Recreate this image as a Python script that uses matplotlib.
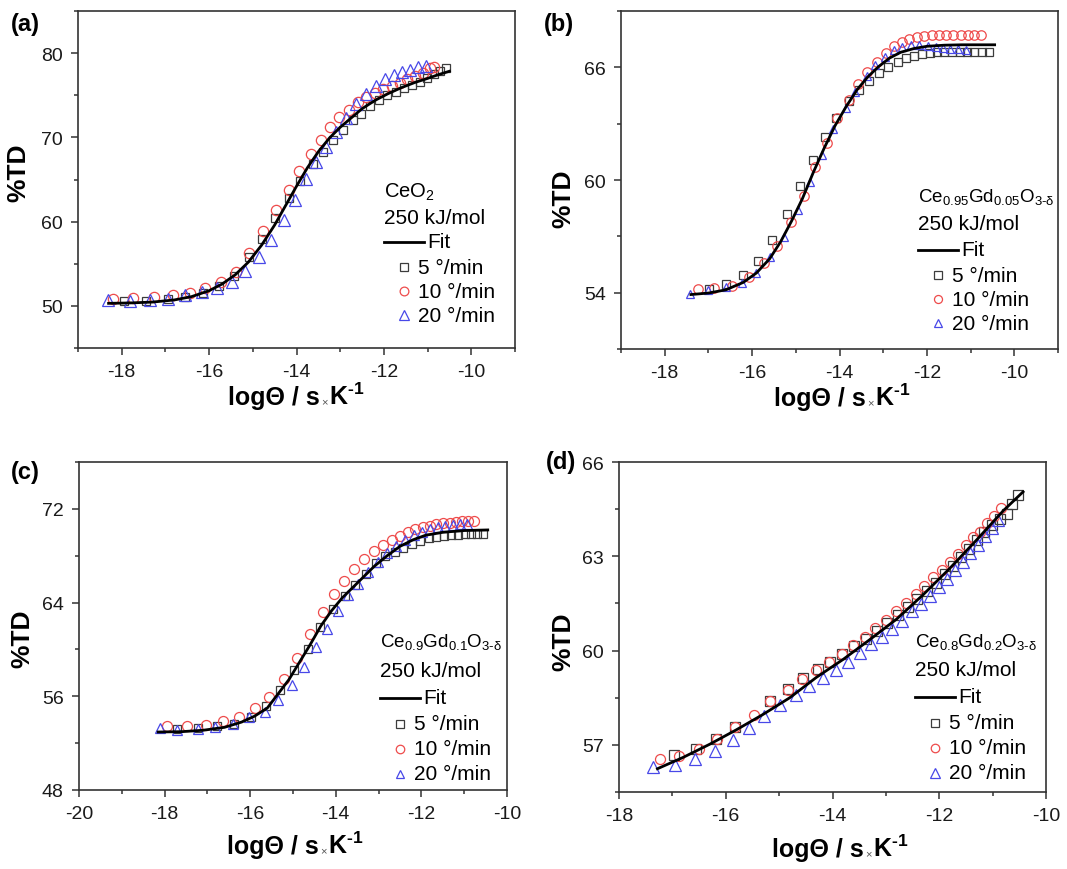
import matplotlib
matplotlib.use('Agg')
import matplotlib.pyplot as plt
from matplotlib.ticker import MultipleLocator
from matplotlib.offsetbox import TextArea, HPacker, AnnotationBbox

plt.rcParams['font.family'] = ['Liberation Sans', 'DejaVu Sans']
plt.rcParams['axes.unicode_minus'] = False
plt.rcParams['mathtext.fontset'] = 'custom'
plt.rcParams['mathtext.rm'] = 'Liberation Sans'
plt.rcParams['mathtext.it'] = 'Liberation Sans:italic'
plt.rcParams['mathtext.bf'] = 'Liberation Sans:bold'
plt.rcParams['mathtext.default'] = 'regular'

# ---------------- data ----------------
# (a) CeO2
a_sq_x = [-17.95, -17.44, -16.94, -16.55, -16.15, -15.78, -15.43, -15.08, -14.78, -14.49, -14.18, -13.92, -13.63,
          -13.4, -13.17, -12.94, -12.71, -12.52, -12.31, -12.11, -11.92, -11.73, -11.54, -11.36, -11.18, -11.02,
          -10.86, -10.72, -10.59]
a_sq_y = [50.56, 50.6, 50.76, 51.04, 51.56, 52.39, 53.59, 55.86, 57.98, 60.45, 62.76, 64.84, 66.83,
          68.23, 69.63, 70.82, 72.1, 72.82, 73.69, 74.41, 75.01, 75.41, 75.81, 76.21, 76.61, 77.08,
          77.52, 77.92, 78.2]
a_ci_x = [-18.21, -17.75, -17.25, -16.82, -16.44, -16.09, -15.72, -15.38, -15.08, -14.76, -14.48, -14.18, -13.94,
          -13.67, -13.45, -13.23, -13.02, -12.8, -12.59, -12.4, -12.21, -12.02, -11.82, -11.63, -11.46, -11.28,
          -11.11, -10.94, -10.86]
a_ci_y = [50.76, 50.88, 51.08, 51.28, 51.56, 52.07, 52.87, 54.07, 56.26, 58.86, 61.33, 63.72, 66.04,
          68.03, 69.7, 71.22, 72.42, 73.3, 74.21, 74.81, 75.29, 75.69, 76.09, 76.49, 76.89, 77.28,
          77.68, 78.2, 78.4]
a_tr_x = [-18.32, -17.82, -17.36, -16.95, -16.55, -16.17, -15.82, -15.48, -15.17, -14.85, -14.58, -14.28, -14.04,
          -13.78, -13.55, -13.32, -13.09, -12.86, -12.63, -12.4, -12.18, -11.98, -11.78, -11.59, -11.4, -11.21,
          -11.03]
a_tr_y = [50.68, 50.6, 50.68, 50.8, 51.28, 51.6, 52.07, 52.87, 54.15, 55.86, 57.86, 60.25, 62.53,
          65.04, 67.03, 68.83, 70.62, 72.34, 74.01, 75.2, 76.1, 76.9, 77.4, 77.75, 78.05, 78.3,
          78.5]
a_fit_x = [-18.3, -17.8, -17.3, -16.8, -16.4, -16.0, -15.7, -15.4, -15.1, -14.8, -14.5, -14.25, -14.0, -13.75,
           -13.5, -13.25, -13.0, -12.75, -12.5, -12.2, -11.9, -11.6, -11.3, -11.0, -10.75, -10.5]
a_fit_y = [50.3, 50.35, 50.45, 50.7, 51.1, 51.8, 52.6, 53.7, 55.2, 57.2, 59.6, 61.9, 64.2, 66.4,
           68.3, 69.9, 71.2, 72.3, 73.4, 74.4, 75.2, 75.9, 76.5, 77.0, 77.45, 77.85]

# (b) Ce0.95Gd0.05O3-d
b_sq_x = [-16.99, -16.6, -16.2, -15.86, -15.54, -15.21, -14.91, -14.61, -14.33, -14.07, -13.78, -13.55, -13.32,
          -13.09, -12.88, -12.67, -12.48, -12.29, -12.11, -11.94, -11.77, -11.6, -11.42, -11.25, -11.09, -10.92,
          -10.74, -10.58]
b_sq_y = [54.21, 54.48, 54.93, 55.7, 56.78, 58.17, 59.68, 61.07, 62.29, 63.28, 64.21, 64.78, 65.28,
          65.7, 66.04, 66.31, 66.48, 66.63, 66.72, 66.77, 66.81, 66.81, 66.81, 66.81, 66.81, 66.81,
          66.81, 66.84]
b_ci_x = [-17.23, -16.87, -16.47, -16.08, -15.72, -15.43, -15.12, -14.82, -14.57, -14.28, -14.05, -13.78, -13.57,
          -13.36, -13.15, -12.94, -12.75, -12.57, -12.4, -12.23, -12.06, -11.88, -11.73, -11.56, -11.4, -11.23,
          -11.07, -10.92, -10.77]
b_ci_y = [54.18, 54.27, 54.36, 54.81, 55.58, 56.51, 57.76, 59.14, 60.68, 61.97, 63.28, 64.25, 65.11,
          65.77, 66.31, 66.77, 67.13, 67.34, 67.52, 67.61, 67.67, 67.7, 67.7, 67.7, 67.7, 67.7,
          67.7, 67.7, 67.7]
b_tr_x = [-17.43, -17.01, -16.6, -16.24, -15.9, -15.58, -15.28, -14.95, -14.67, -14.39, -14.15, -13.86, -13.65,
          -13.38, -13.19, -12.96, -12.76, -12.56, -12.36, -12.17, -11.98, -11.8, -11.63, -11.46, -11.28, -11.11]
b_tr_y = [53.95, 54.14, 54.3, 54.54, 55.04, 55.88, 56.99, 58.39, 59.91, 61.34, 62.74, 63.85, 64.69,
          65.55, 66.1, 66.55, 66.9, 67.1, 67.2, 67.2, 67.15, 67.08, 67.02, 66.98, 66.95, 66.93]
b_fit_x = [-17.4, -17.0, -16.6, -16.2, -15.9, -15.6, -15.35, -15.1, -14.85, -14.6, -14.35, -14.1, -13.85, -13.6,
           -13.35, -13.1, -12.85, -12.6, -12.3, -12.0, -11.6, -11.2, -10.8, -10.45]
b_fit_y = [53.9, 53.98, 54.15, 54.55, 55.05, 55.8, 56.7, 57.8, 59.0, 60.4, 61.7, 62.9, 63.9, 64.8,
           65.5, 66.05, 66.5, 66.8, 67.0, 67.12, 67.18, 67.2, 67.2, 67.2]

# (c) Ce0.9Gd0.1O3-d
c_sq_x = [-17.71, -17.21, -16.78, -16.37, -15.99, -15.64, -15.31, -14.97, -14.66, -14.37, -14.07, -13.79, -13.54,
          -13.3, -13.07, -12.84, -12.62, -12.42, -12.22, -12.03, -11.83, -11.65, -11.48, -11.3, -11.15, -10.99,
          -10.85, -10.71, -10.57]
c_sq_y = [53.21, 53.3, 53.44, 53.64, 54.21, 55.16, 56.51, 58.22, 60.03, 61.89, 63.46, 64.52, 65.47,
          66.41, 67.39, 67.96, 68.33, 68.7, 68.99, 69.25, 69.48, 69.62, 69.71, 69.76, 69.79, 69.82,
          69.82, 69.82, 69.82]
c_ci_x = [-17.94, -17.47, -17.03, -16.64, -16.25, -15.89, -15.56, -15.22, -14.91, -14.6, -14.3, -14.05, -13.81,
          -13.58, -13.34, -13.11, -12.89, -12.69, -12.5, -12.32, -12.14, -11.96, -11.81, -11.65, -11.49, -11.34,
          -11.19, -11.04, -10.9, -10.77]
c_ci_y = [53.5, 53.5, 53.58, 53.87, 54.24, 54.96, 55.96, 57.45, 59.23, 61.32, 63.18, 64.7, 65.84,
          66.9, 67.76, 68.42, 68.9, 69.33, 69.68, 69.99, 70.25, 70.42, 70.57, 70.68, 70.77, 70.82,
          70.88, 70.94, 70.97, 71.0]
c_tr_x = [-18.11, -17.7, -17.23, -16.82, -16.4, -16.02, -15.66, -15.34, -15.03, -14.74, -14.46, -14.21, -13.95,
          -13.72, -13.48, -13.24, -13.01, -12.8, -12.59, -12.38, -12.18, -11.99, -11.79, -11.61, -11.44, -11.26,
          -11.1, -10.93]
c_tr_y = [53.3, 53.1, 53.21, 53.36, 53.64, 54.21, 54.64, 55.65, 56.93, 58.54, 60.23, 61.75, 63.32,
          64.61, 65.61, 66.61, 67.47, 68.19, 68.82, 69.33, 69.76, 70.05, 70.25, 70.42, 70.54, 70.62,
          70.68, 70.71]
c_fit_x = [-18.15, -17.6, -17.1, -16.6, -16.2, -15.9, -15.6, -15.35, -15.1, -14.85, -14.6, -14.35, -14.1, -13.85,
           -13.6, -13.35, -13.1, -12.8, -12.5, -12.2, -11.9, -11.5, -11.0, -10.45]
c_fit_y = [52.95, 52.98, 53.1, 53.35, 53.8, 54.3, 55.0, 56.2, 57.4, 58.9, 60.4, 62.0, 63.3, 64.4,
           65.3, 66.2, 67.1, 68.0, 68.8, 69.35, 69.75, 70.0, 70.15, 70.2]

# (d) Ce0.8Gd0.2O3-d
d_sq_x = [-16.97, -16.55, -16.18, -15.83, -15.17, -14.84, -14.55, -14.28, -14.04, -13.82, -13.6, -13.38, -13.17,
          -12.97, -12.77, -12.58, -12.41, -12.23, -12.06, -11.9, -11.74, -11.59, -11.44, -11.3, -11.16, -11.02,
          -10.87, -10.74, -10.63, -10.52]
d_sq_y = [56.69, 56.87, 57.19, 57.57, 58.4, 58.78, 59.14, 59.41, 59.63, 59.9, 60.13, 60.38, 60.63,
          60.89, 61.14, 61.39, 61.65, 61.89, 62.16, 62.43, 62.7, 62.97, 63.24, 63.51, 63.78, 64.0,
          64.2, 64.35, 64.65, 64.95]
d_ci_x = [-17.24, -16.87, -16.5, -16.17, -15.82, -15.47, -15.17, -14.84, -14.57, -14.3, -14.06, -13.82, -13.61,
          -13.4, -13.2, -13.0, -12.81, -12.62, -12.44, -12.28, -12.11, -11.95, -11.79, -11.65, -11.5, -11.37,
          -11.23, -11.1, -10.98, -10.85]
d_ci_y = [56.55, 56.65, 56.87, 57.19, 57.57, 57.95, 58.38, 58.76, 59.09, 59.39, 59.63, 59.9, 60.17,
          60.44, 60.71, 60.98, 61.25, 61.52, 61.81, 62.06, 62.33, 62.56, 62.83, 63.08, 63.35, 63.6,
          63.78, 64.05, 64.29, 64.54]
d_tr_x = [-17.37, -16.95, -16.57, -16.2, -15.87, -15.57, -15.28, -14.98, -14.69, -14.44, -14.17, -13.93, -13.71,
          -13.49, -13.28, -13.07, -12.88, -12.69, -12.51, -12.34, -12.17, -12.01, -11.85, -11.71, -11.56, -11.42,
          -11.28, -11.14, -11.02, -10.89]
d_tr_y = [56.28, 56.35, 56.55, 56.82, 57.16, 57.54, 57.92, 58.27, 58.6, 58.87, 59.14, 59.38, 59.65,
          59.93, 60.2, 60.44, 60.68, 60.95, 61.25, 61.49, 61.75, 62.02, 62.29, 62.56, 62.83, 63.1,
          63.37, 63.64, 63.91, 64.16]
d_fit_x = [-17.28, -16.8, -16.3, -15.8, -15.3, -14.8, -14.3, -13.8, -13.3, -12.8, -12.3, -11.8, -11.3, -10.8,
           -10.43]
d_fit_y = [56.24, 56.6, 57.02, 57.48, 57.97, 58.5, 59.15, 59.72, 60.35, 61.0, 61.78, 62.62, 63.52, 64.45,
           65.05]

formulas = ['CeO$_2$', 'Ce$_{0.95}$Gd$_{0.05}$O$_{3\u2010\u03b4}$',
            'Ce$_{0.9}$Gd$_{0.1}$O$_{3\u2010\u03b4}$', 'Ce$_{0.8}$Gd$_{0.2}$O$_{3\u2010\u03b4}$']
rate_labels = ['5 \u00b0/min', '10 \u00b0/min', '20 \u00b0/min']
panel_tags = ['(a)', '(b)', '(c)', '(d)']

# ---------------- figure ----------------
W, H = 1067, 870
fig = plt.figure(figsize=(W / 100, H / 100), dpi=100)

# axes boxes in pixels: left, top, right, bottom
boxes = [(78, 12, 515, 349), (621, 12, 1058, 350), (79, 463, 507, 791), (619, 463, 1046, 793)]
xlims = [(-19, -9), (-19, -9), (-20, -10), (-18, -10)]
ylims = [(45, 85), (51, 69), (48, 76), (55.5, 66)]
ymaj = [10, 6, 8, 3]
ymin = [5, 3, 4, 1.5]
ms = [(6.3, 7.4, 8), (6, 6.8, 6), (6.2, 7.2, 7.2), (6.5, 7.2, 8.2)]
key_anchor = [(384, 192), (918, 197), (380, 642), (915, 642)]
key_rows = [[0, 26, 51, 76, 100, 124], [0, 27, 54, 79, 103, 127],
            [0, 30, 57, 83, 108, 133], [0, 29, 56, 82, 107, 132]]
formula_size = [14.5, 13.5, 13.5, 13.5]
tag_pos = [(11, 25), (544, 24), (11, 473), (546, 463)]
xlab_pos = [(296, 397), (842, 398), (295, 846), (840, 849)]
ylab_pos = [(18, 173), (563, 199), (22, 639), (563, 642)]

sq_col, ci_col, tr_col = '#3c3c3c', '#ee4b4b', '#4848e8'

series = [
    (a_sq_x, a_sq_y, a_ci_x, a_ci_y, a_tr_x, a_tr_y, a_fit_x, a_fit_y),
    (b_sq_x, b_sq_y, b_ci_x, b_ci_y, b_tr_x, b_tr_y, b_fit_x, b_fit_y),
    (c_sq_x, c_sq_y, c_ci_x, c_ci_y, c_tr_x, c_tr_y, c_fit_x, c_fit_y),
    (d_sq_x, d_sq_y, d_ci_x, d_ci_y, d_tr_x, d_tr_y, d_fit_x, d_fit_y),
]


def x_label(x, y):
    parts = [TextArea('log\u0398 / s', textprops=dict(fontsize=18, fontweight='bold')),
             TextArea('\u00d7', textprops=dict(fontsize=8, color='#555555')),
             TextArea('K$^{\\mathbf{\u20101}}$', textprops=dict(fontsize=18, fontweight='bold'))]
    box = HPacker(children=parts, align='baseline', pad=0, sep=1)
    fig.add_artist(AnnotationBbox(box, (x / W, 1 - y / H), xycoords='figure fraction', frameon=False,
                                  box_alignment=(0.5, 0.5)))


for i in range(4):
    l, t, r, b = boxes[i]
    ax = fig.add_axes([l / W, 1 - b / H, (r - l) / W, (b - t) / H])
    sx, sy, cx, cy, tx, ty, fx, fy = series[i]
    m1, m2, m3 = ms[i]
    ax.plot(sx, sy, 's', ms=m1, mfc='none', mec=sq_col, mew=0.9, zorder=3)
    ax.plot(cx, cy, 'o', ms=m2, mfc='none', mec=ci_col, mew=0.9, zorder=3)
    ax.plot(tx, ty, '^', ms=m3, mfc='none', mec=tr_col, mew=0.9, zorder=3)
    ax.plot(fx, fy, '-', color='black', lw=2, zorder=4)

    ax.set_xlim(*xlims[i])
    ax.set_ylim(*ylims[i])
    ax.xaxis.set_major_locator(MultipleLocator(2))
    ax.xaxis.set_minor_locator(MultipleLocator(1))
    ax.yaxis.set_major_locator(MultipleLocator(ymaj[i]))
    ax.yaxis.set_minor_locator(MultipleLocator(ymin[i]))
    ax.tick_params(which='both', direction='out', top=False, right=False, width=1.1, color='#333333')
    ax.tick_params(which='major', length=5, labelsize=14, pad=6, labelcolor='#1a1a1a')
    ax.tick_params(which='minor', length=3)
    for sp in ax.spines.values():
        sp.set_linewidth(1.2)
        sp.set_color('#333333')

    # key block
    aw, ah = r - l, b - t
    kx, ky = key_anchor[i]
    rows = key_rows[i]
    x0 = (kx - l) / aw

    def yy(dy):
        return (b - (ky + dy)) / ah

    def xx(dx):
        return x0 + dx / aw

    ax.text(x0, yy(rows[0]), formulas[i], transform=ax.transAxes, ha='left', va='center',
            fontsize=formula_size[i])
    ax.text(x0, yy(rows[1]), '250 kJ/mol', transform=ax.transAxes, ha='left', va='center', fontsize=15)
    ax.plot([xx(0), xx(40)], [yy(rows[2]), yy(rows[2])], '-', color='black', lw=2,
            transform=ax.transAxes, clip_on=False)
    ax.text(xx(43), yy(rows[2]), 'Fit', transform=ax.transAxes, ha='left', va='center', fontsize=15)
    for k, (mk, col, m) in enumerate([('s', sq_col, m1), ('o', ci_col, m2), ('^', tr_col, m3)]):
        ax.plot([xx(20)], [yy(rows[3 + k])], mk, ms=m * 0.85, mfc='none', mec=col, mew=0.9,
                transform=ax.transAxes, clip_on=False)
        ax.text(xx(34), yy(rows[3 + k]), rate_labels[k], transform=ax.transAxes,
                ha='left', va='center', fontsize=15)

    # labels
    fig.text(tag_pos[i][0] / W, 1 - tag_pos[i][1] / H, panel_tags[i], fontsize=17, fontweight='bold',
             ha='left', va='center')
    x_label(*xlab_pos[i])
    fig.text(ylab_pos[i][0] / W, 1 - ylab_pos[i][1] / H, '%TD', fontsize=19, fontweight='bold',
             ha='center', va='center', rotation=90)

fig.savefig('out.png', dpi=100)
